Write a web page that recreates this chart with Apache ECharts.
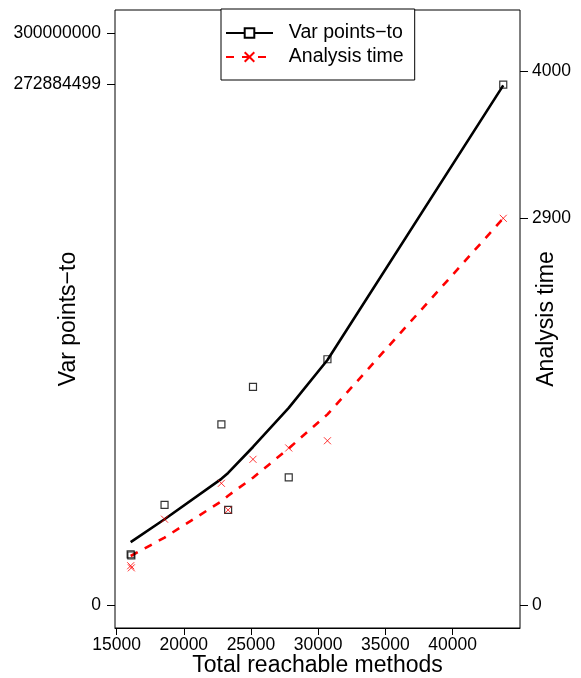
<!DOCTYPE html>
<html>
<head>
<meta charset="utf-8">
<script src="https://cdn.jsdelivr.net/npm/echarts@6/dist/echarts.min.js"></script>
<style>
  html, body { margin: 0; padding: 0; background: #fff; }
  #chart { width: 581px; height: 678px; }
</style>
</head>
<body>
<div id="chart"></div>
<script>
// 原始数据
var methods = [16050, 16100, 18570, 22800, 23300, 25150, 27810, 30690, 43770]
var varPointsTo = [26.6e6, 26.0e6, 52.5e6, 94.8e6, 49.9e6, 114.4e6, 67.0e6, 128.9e6, 272884499]
var analysisTime = [295, 279, 644, 913, 713, 1093, 1178, 1232, 2900]
// 拟合曲线
var varFit = [33.0e6, 33.2e6, 45.0e6, 66.2e6, 69.3e6, 82.9e6, 103.4e6, 128.5e6, 272.5e6]
var timeFit = [368, 370, 506, 778, 820, 955, 1175, 1430, 2900]
// 刻度
var xTicks = [15000, 20000, 25000, 30000, 35000, 40000]
var leftTicks = [0, 272884499, 300000000]
var rightTicks = [0, 2900, 4000]

function pairs (xs, ys) {
  return xs.map(function (x, i) { return [x, ys[i]] })
}

var font = 'Liberation Sans'
var cross = 'path://M0,0L10,10M10,0L0,10'

var chart = echarts.init(document.getElementById('chart'))
chart.setOption({
  animation: false,
  backgroundColor: '#fff',
  grid: {
    left: 115,
    right: 61,
    top: 10,
    bottom: 50,
    outerBoundsMode: 'none',
    containLabel: false,
    show: true,
    borderColor: '#000',
    borderWidth: 1
  },
  legend: {
    orient: 'vertical',
    left: 221,
    top: 9,
    data: ['Var points−to', 'Analysis time'],
    backgroundColor: '#fff',
    borderColor: '#000',
    borderWidth: 1,
    padding: [14, 11, 13, 4],
    itemGap: 4,
    itemWidth: 47,
    itemHeight: 12,
    formatter: function (name) { return '  ' + name },
    textStyle: { fontFamily: font, fontSize: 19.5, color: '#000' }
  },
  xAxis: {
    type: 'value',
    min: 14884,
    max: 45016,
    name: 'Total reachable methods',
    nameLocation: 'middle',
    nameGap: 26,
    nameMoveOverlap: false,
    nameTextStyle: { fontFamily: font, fontSize: 23, color: '#000' },
    splitLine: { show: false },
    axisLine: { show: true, onZero: false, lineStyle: { color: '#000', width: 1 } },
    axisTick: { show: true, length: 7, lineStyle: { color: '#000' }, customValues: xTicks },
    axisLabel: {
      margin: 8,
      fontFamily: font,
      fontSize: 17.5,
      color: '#000',
      customValues: xTicks,
      formatter: function (v) { return String(v) }
    }
  },
  yAxis: [
    {
      type: 'value',
      position: 'left',
      min: -12e6,
      max: 312e6,
      name: 'Var points−to',
      nameLocation: 'middle',
      nameGap: 35,
      nameMoveOverlap: false,
      nameTextStyle: { fontFamily: font, fontSize: 23, color: '#000' },
      splitLine: { show: false },
      axisLine: { show: false, onZero: false },
      axisTick: { show: true, length: 8, lineStyle: { color: '#000' }, customValues: leftTicks },
      axisLabel: {
        margin: 14,
        fontFamily: font,
        fontSize: 17.5,
        color: '#000',
        customValues: leftTicks,
        formatter: function (v) { return String(v) }
      }
    },
    {
      type: 'value',
      position: 'right',
      min: -172,
      max: 4462,
      name: 'Analysis time',
      nameLocation: 'middle',
      nameGap: 15,
      nameMoveOverlap: false,
      nameTextStyle: { fontFamily: font, fontSize: 23, color: '#000' },
      splitLine: { show: false },
      axisLine: { show: false, onZero: false },
      axisTick: { show: true, length: 8, lineStyle: { color: '#000' }, customValues: rightTicks },
      axisLabel: {
        margin: 12,
        fontFamily: font,
        fontSize: 17.5,
        color: '#000',
        customValues: rightTicks,
        formatter: function (v) { return String(v) }
      }
    }
  ],
  series: [
    {
      name: 'Var points−to',
      type: 'line',
      yAxisIndex: 0,
      data: pairs(methods, varFit),
      symbol: 'rect',
      showSymbol: false,
      lineStyle: { color: '#000', width: 2.6 },
      itemStyle: { color: '#fff', borderColor: '#000', borderWidth: 2 },
      z: 2
    },
    {
      name: 'Analysis time',
      type: 'line',
      yAxisIndex: 1,
      data: pairs(methods, timeFit),
      symbol: cross,
      showSymbol: false,
      lineStyle: { color: '#ff0000', width: 2.6, type: [8, 8] },
      itemStyle: { color: 'transparent', borderColor: '#ff0000', borderWidth: 2.5 },
      z: 2
    },
    {
      name: 'var points data',
      type: 'scatter',
      yAxisIndex: 0,
      data: pairs(methods, varPointsTo),
      symbol: 'rect',
      symbolSize: 7,
      itemStyle: { color: 'transparent', borderColor: '#000', borderWidth: 1.2 },
      z: 3
    },
    {
      name: 'analysis time data',
      type: 'scatter',
      yAxisIndex: 1,
      data: pairs(methods, analysisTime),
      symbol: cross,
      symbolSize: 7,
      itemStyle: { color: 'transparent', borderColor: '#ff0000', borderWidth: 1 },
      z: 3
    }
  ]
})
</script>
</body>
</html>
